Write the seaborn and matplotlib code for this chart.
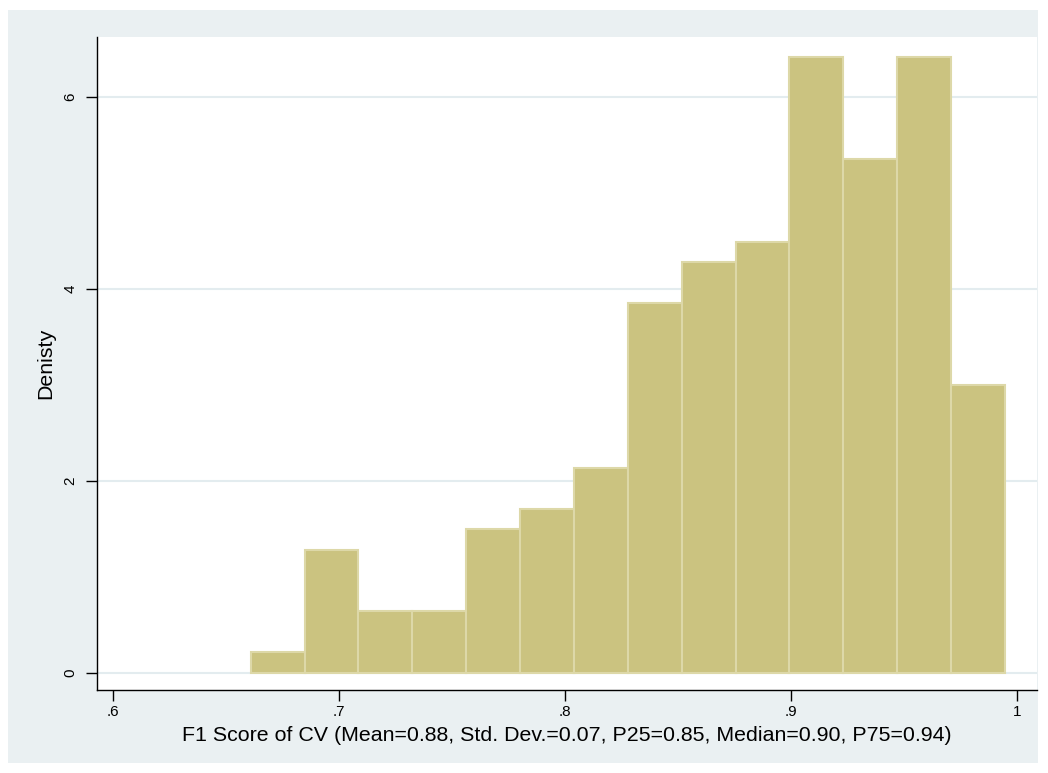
import numpy as np
import pandas as pd
import matplotlib
matplotlib.use("Agg")
import matplotlib.pyplot as plt
import seaborn as sns
from matplotlib.patches import Rectangle

# Data
bin_start = 0.6609
bin_width = 0.02384
bin_counts = [1, 6, 3, 3, 7, 8, 10, 18, 20, 21, 30, 25, 30, 14]
x_ticks = [0.6, 0.7, 0.8, 0.9, 1.0]
x_tick_labels = [".6", ".7", ".8", ".9", "1"]
y_ticks = [0, 2, 4, 6]
y_tick_labels = ["0", "2", "4", "6"]
x_label = "F1 Score of CV (Mean=0.88, Std. Dev.=0.07, P25=0.85, Median=0.90, P75=0.94)"
y_label = "Denisty"

edges = [bin_start + bin_width * i for i in range(len(bin_counts) + 1)]
centers = [(edges[i] + edges[i + 1]) / 2 for i in range(len(bin_counts))]
df = pd.DataFrame({"score": centers, "count": bin_counts})

sns.set_style("white")
plt.rcParams["font.family"] = ["Liberation Sans", "DejaVu Sans"]
plt.rcParams["text.color"] = "black"
plt.rcParams["axes.labelcolor"] = "black"
plt.rcParams["xtick.color"] = "black"
plt.rcParams["ytick.color"] = "black"

W, H = 1048, 773
fig = plt.figure(figsize=(W / 100, H / 100), dpi=100, facecolor="white")
bgcol = "#EAF0F2"
bg = Rectangle((8 / W, 1 - 763 / H), (1038 - 8) / W, (763 - 10) / H,
               transform=fig.transFigure, facecolor=bgcol, edgecolor="none")
bg.set_zorder(-10)
fig.add_artist(bg)

ax = fig.add_axes([97 / W, 1 - 690 / H, (1037 - 97) / W, (690 - 37) / H])
ax.set_zorder(1)
ax.set_facecolor("white")

sns.histplot(data=df, x="score", weights="count", bins=edges, stat="density",
             color="#CBC380", edgecolor="#DDD8A8", linewidth=1.5, alpha=1.0, ax=ax,
             zorder=2)

ax.set_xlim(0.59292, 1.00885)
ax.set_ylim(-0.177, 6.625)

for y in y_ticks:
    ax.axhline(y, color="#E3ECEF", linewidth=1.5, zorder=1)

ax.set_xticks(x_ticks)
ax.set_xticklabels(x_tick_labels, fontsize=11)
ax.set_yticks(y_ticks)
ax.set_yticklabels(y_tick_labels, fontsize=11, rotation=90, va="center")
ax.tick_params(axis="both", direction="out", length=8, width=1.0, color="black",
               labelcolor="black", bottom=True, left=True, pad=3)
ax.tick_params(axis="y", pad=6)

for s in ["top", "right"]:
    ax.spines[s].set_visible(False)
for s in ["left", "bottom"]:
    ax.spines[s].set_color("black")
    ax.spines[s].set_linewidth(1.0)

ax.set_xlabel(x_label, fontsize=15.4, labelpad=5, color="black")
ax.set_ylabel(y_label, fontsize=15.4, labelpad=6, color="black")

fig.savefig("out.png", dpi=100, facecolor="white")
